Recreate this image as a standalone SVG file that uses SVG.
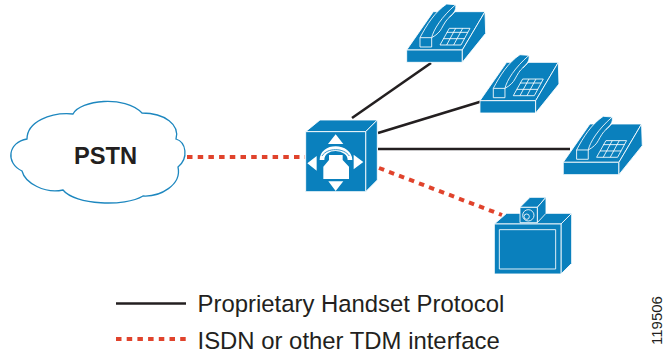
<svg xmlns="http://www.w3.org/2000/svg" width="665" height="354" viewBox="0 0 665 354">
<style>
.b{fill:#0a80bd;stroke:#fff;stroke-width:2.6;stroke-linejoin:round}
.w{fill:#fff;stroke:none}
.l{fill:none;stroke:#fff;stroke-width:2.6;stroke-linejoin:round}
.k{fill:none;stroke:#231f20;stroke-width:2.6}
.r{fill:none;stroke:#e0432c;stroke-width:4;stroke-dasharray:5.5 5.2}
text{font-family:"Liberation Sans",Arial,sans-serif;fill:#231f20}
.t{font-size:23.9px}
</style>
<defs>
<g id="phone">
<path class="b" d="M50 150L130 35H285L217 150Z"/>
<path class="b" d="M50 150H217V187H50Z"/>
<path class="b" d="M217 150L285 35L287 100L217 187Z"/>
<path class="b" d="M90 113C110 75 135 35 170 12L197 14C200 30 190 42 178 52C170 58 162 72 155 85C150 95 140 105 125 113L125 141L90 141Z"/>
<path class="l" d="M90 113H125M178 52L200 30M125 113C130 90 155 50 197 14"/>
<path class="b" d="M178 85H240L213 135H150Z"/>
<path class="l" d="M170 97H234M160 116H224M197 85L170 135M218 85L191 135"/>
</g>
</defs>
<g id="connectors">
<path class="k" d="M352 118L431 63"/>
<path class="k" d="M378 133L486 100"/>
<path class="k" d="M378 149L570 149"/>
<path class="r" d="M187 157H305"/>
<path class="r" d="M379 168L502 215"/>
</g>
<g id="pstn">
<path d="M73 114C80 100 125 95 142 113C165 113 180 125 176 139C186 142 189 158 178 167C182 185 160 197 143 196C125 207 75 205 63 190C45 194 25 183 22 171C5 163 8 142 27 139C27 122 50 112 73 114Z" fill="#fff" stroke="#1d87bf" stroke-width="1.3"/>
<text x="74" y="163.500" font-size="23.700" font-weight="bold">PSTN</text>
</g>
<g id="phone1" transform="translate(390 0) scale(.3333)"><use href="#phone"/></g>
<g id="phone2" transform="translate(463.300 50.700) scale(.3333)"><use href="#phone"/></g>
<g id="phone3" transform="translate(546.600 112.300) scale(.3333)"><use href="#phone"/></g>
<g id="switch" transform="translate(290 110) scale(.3333)">
<path class="b" d="M47 65L90 30H262L227 65Z"/>
<path class="b" d="M227 65L262 30V210L227 245Z"/>
<path class="b" d="M47 65H227V245H47Z"/>
<path class="w" d="M137 73L160 102H114ZM137 243L115 214H160ZM52 160L80 138V182ZM220 156L191 134V178Z"/>
<path d="M96 150C96 128 115 116 137 116C160 116 180 130 180 150" fill="none" stroke="#fff" stroke-width="14"/>
<path d="M96 138C105 124 120 119 137 119C155 119 170 126 178 138" fill="none" stroke="#0a80bd" stroke-width="2.500"/>
<path class="w" d="M117 135H158V150L177 170V207H100V170L117 150Z"/>
</g>
<g id="video" transform="translate(480 190) scale(.3333)">
<path class="b" d="M43 102L80 70H275L243 102Z"/>
<path class="b" d="M243 102L275 70V220L243 252Z"/>
<path class="b" d="M43 102H243V252H43Z"/>
<path class="l" d="M58 119H227V237H58Z"/>
<path class="b" d="M120 52L150 22H198L172 52Z"/>
<path class="b" d="M172 52L198 22V70L172 98Z"/>
<path class="b" d="M120 52H172V98H120Z"/>
<circle class="l" cx="145" cy="76" r="17"/>
<circle class="l" cx="140" cy="80" r="8"/>
</g>
<g id="legend">
<path class="k" d="M116 303.500H186"/>
<path class="r" d="M116 339H186"/>
<text class="t" x="197.500" y="311.500">Proprietary Handset Protocol</text>
<text class="t" x="197.500" y="349">ISDN or other TDM interface</text>
</g>
<text transform="translate(662 345) rotate(-90)" font-size="15">119506</text>
</svg>
